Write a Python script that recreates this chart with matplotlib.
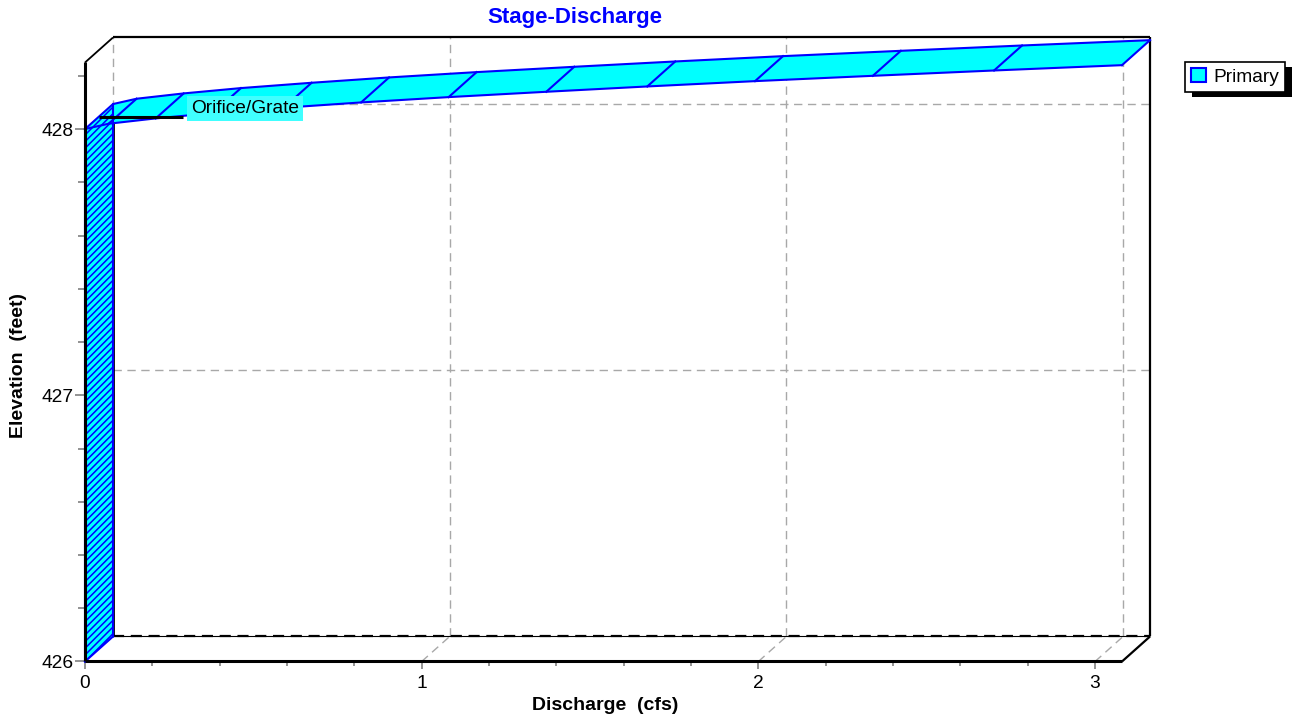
import matplotlib.pyplot as plt
from matplotlib.patches import Polygon, Patch, Rectangle
from matplotlib.ticker import MultipleLocator
import numpy as np

plt.rcParams['font.family'] = ['Liberation Sans', 'DejaVu Sans']
plt.rcParams['hatch.linewidth'] = 1.1

# stage-discharge table, no flow until the grate crest at 428.00
elevation = [426.00, 428.00, 428.02, 428.04, 428.06, 428.08, 428.10, 428.12,
             428.14, 428.16, 428.18, 428.20, 428.22, 428.24]
discharge = [0.00, 0.00, 0.07, 0.21, 0.38, 0.59, 0.82, 1.08,
             1.37, 1.67, 1.99, 2.34, 2.70, 3.08]

series_name = 'Primary'
device_name = 'Orifice/Grate'
device_elev = 428.00
device_len = 0.25
x_ticks = [0, 1, 2, 3]
y_ticks = [426, 427, 428]

W, H = 1294, 718
fig = plt.figure(figsize=(W / 100, H / 100), dpi=100)
ax_w, ax_h = 1037, 599
ax = fig.add_axes([85 / W, 56.5 / H, ax_w / W, ax_h / H])

xmin, xmax = 0, max(discharge)
ymin, ymax = 426, 428.25
ax.set_xlim(xmin, xmax)
ax.set_ylim(ymin, ymax)
for s in ax.spines.values():
    s.set_visible(False)

# depth of the fake 3d box (pixels -> data units)
dx = 28 / (ax_w / (xmax - xmin))
dy = 25 / (ax_h / (ymax - ymin))

grid_kw = dict(color='#a8a8a8', lw=1.0, ls=(0, (6, 4)), clip_on=False, zorder=1)
# back wall grid
for xv in x_ticks:
    ax.plot([xv + dx, xv + dx], [ymin + dy, ymax + dy], **grid_kw)
for yv in y_ticks[1:]:
    ax.plot([xmin + dx, xmax + dx], [yv + dy, yv + dy], **grid_kw)
# floor grid
for xv in x_ticks[1:]:
    ax.plot([xv, xv + dx], [ymin, ymin + dy], **grid_kw)

# box outline
line_kw = dict(color='black', clip_on=False, solid_capstyle='butt')
ax.plot([xmin + dx, xmin + dx], [ymin + dy, device_elev + dy], lw=2.0, zorder=1.5, **line_kw)
ax.plot([xmin + dx, xmax + dx], [ymin + dy, ymin + dy], lw=0.8, zorder=1.5, **line_kw)
ax.plot([xmin + dx, xmax + dx], [ymin + dy, ymin + dy], lw=1.6, ls=(0, (5, 3)), zorder=1.5,
        color='black', clip_on=False)
ax.plot([xmin + dx, xmax + dx], [ymax + dy, ymax + dy], lw=1.6, zorder=1.5, **line_kw)
ax.plot([xmax + dx, xmax + dx], [ymin + dy, ymax + dy], lw=1.6, zorder=1.5, **line_kw)
ax.plot([xmax, xmax + dx], [ymin, ymin + dy], lw=1.6, zorder=1.5, **line_kw)
ax.plot([xmin, xmin + dx], [ymax, ymax + dy], lw=1.3, zorder=1.5, **line_kw)

# ribbon for the rating curve
q = np.array(discharge)
e = np.array(elevation)
ribbon = np.vstack([np.column_stack([q, e]), np.column_stack([q + dx, e + dy])[::-1]])
ax.add_patch(Polygon(ribbon, closed=True, fc='#00ffff', ec='none', zorder=2, clip_on=False))
# dead storage part is shaded with hatching
dead = [(q[0], e[0]), (q[1], e[1]), (q[1] + dx, e[1] + dy), (q[0] + dx, e[0] + dy)]
ax.add_patch(Polygon(dead, closed=True, fc='#00ffff', ec='#0000ff', lw=0.0,
                     hatch='/////', zorder=2.1, clip_on=False))
blue_kw = dict(color='#0000ff', lw=1.5, clip_on=False, zorder=3)
ax.plot(q, e, **blue_kw)
ax.plot(q + dx, e + dy, **blue_kw)
for qi, ei in zip(q, e):
    ax.plot([qi, qi + dx], [ei, ei + dy], **blue_kw)

# front axes lines
ax.plot([xmin, xmin], [ymin, ymax], lw=2.2, zorder=4, **line_kw)
ax.plot([xmin, xmax], [ymin, ymin], lw=2.2, zorder=4, **line_kw)

# device marker
mx = xmin + dx / 2
my = device_elev + dy / 2
ax.plot([mx, mx + device_len], [my, my], color='black', lw=2.2, zorder=5,
        clip_on=False, solid_capstyle='butt')
ax.annotate(device_name, xy=(mx + device_len, my), xytext=(5.5, 6),
            textcoords='offset points', ha='left', va='center', fontsize=13.8,
            zorder=6, bbox=dict(boxstyle='square,pad=0.22', fc='#40ffff', ec='none'))

# ticks
ax.set_xticks(x_ticks)
ax.set_yticks(y_ticks)
ax.xaxis.set_minor_locator(MultipleLocator(0.2))
ax.yaxis.set_minor_locator(MultipleLocator(0.2))
ax.tick_params(axis='x', which='major', length=5, width=1.2, color='#808080',
               labelsize=13.8, pad=4.5)
ax.tick_params(axis='x', which='minor', length=3, width=1.2, color='#808080')
ax.tick_params(axis='y', which='major', length=7, width=1.2, color='#808080',
               labelsize=13.8, pad=1)
ax.tick_params(axis='y', which='minor', length=5, width=1.2, color='#808080')

fig.text(575 / W, 1 - 18 / H, 'Stage-Discharge', ha='center', va='center',
         fontsize=16, fontweight='bold', color='#0000ff')
fig.text(605 / W, 1 - 705 / H, 'Discharge  (cfs)', ha='center', va='center',
         fontsize=14, fontweight='bold')
fig.text(19 / W, 1 - 365 / H, 'Elevation  (feet)', ha='center', va='center',
         rotation=90, fontsize=14, fontweight='bold')

handle = Patch(fc='#00ffff', ec='#0000ff', lw=1.5)
leg = fig.legend([handle], [series_name], loc='upper left',
                 bbox_to_anchor=(1185 / W, 1 - 62 / H), bbox_transform=fig.transFigure,
                 fontsize=13.8, frameon=True, fancybox=False, framealpha=1,
                 borderaxespad=0, borderpad=0.32, handlelength=0.75, handleheight=0.75,
                 handletextpad=0.4)
leg.get_frame().set_edgecolor('black')
leg.get_frame().set_linewidth(1.2)

# solid drop shadow behind the legend box
fig.canvas.draw()
bb = leg.get_window_extent()
fig.patches.append(Rectangle((bb.x0 + 7, bb.y0 - 5), bb.width, bb.height,
                             transform=None, fc='black', ec='none', zorder=4.5))

fig.savefig('out.png', dpi=100)
